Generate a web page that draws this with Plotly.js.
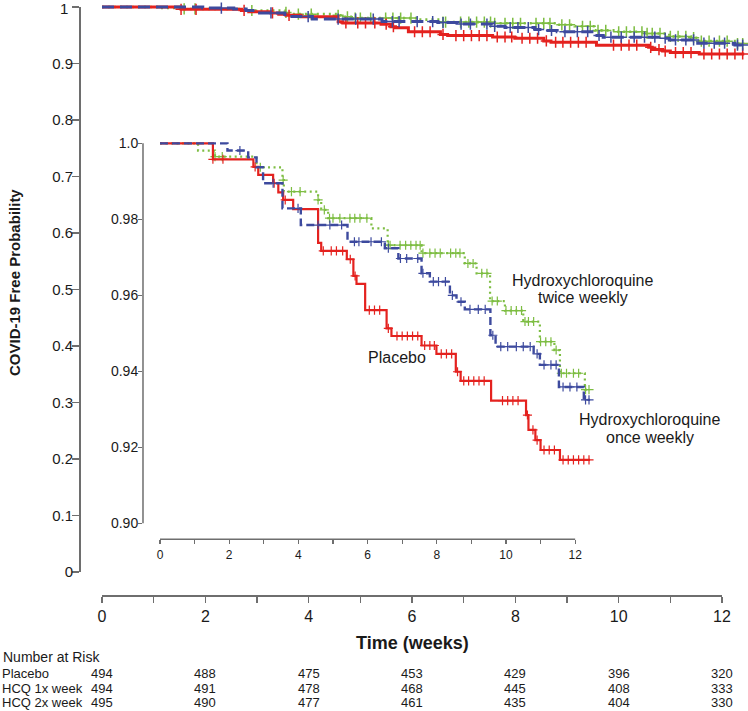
<!DOCTYPE html>
<html><head><meta charset="utf-8">
<script src="https://cdn.plot.ly/plotly-3.0.1.min.js"></script>
<style>html,body{margin:0;padding:0;background:#fff}</style>
</head><body><div id="chart" style="width:748px;height:711px"></div>
<script>
// ---- Kaplan-Meier step data (time in weeks; survival after each step) ----
const placeboTimes = [0, 1.53, 2.70, 2.84, 3.27, 3.42, 3.56, 3.85, 4.57, 4.66, 5.40, 5.59, 5.68, 5.93, 6.55, 6.69, 7.56, 7.99, 8.55, 8.69, 9.57, 10.58, 10.65, 10.85, 11.00, 11.56];
const placeboSurv  = [1, 0.9958, 0.9938, 0.9917, 0.9895, 0.9871, 0.9851, 0.9827, 0.9738, 0.9717, 0.9695, 0.9651, 0.9630, 0.9561, 0.9513, 0.9493, 0.9468, 0.9446, 0.9399, 0.9375, 0.9323, 0.9285, 0.9246, 0.9219, 0.9193, 0.9167];
const placeboCensor = [1.53, 1.82, 2.75, 3.30, 3.62, 4.72, 4.95, 5.10, 5.28, 5.50, 5.64, 6.05, 6.20, 6.35, 6.60, 6.85, 7.00, 7.15, 7.30, 7.45, 7.65, 7.80, 7.93, 8.13, 8.28, 8.43, 8.60, 8.78, 8.92, 9.07, 9.22, 9.37, 9.90, 10.05, 10.20, 10.35, 10.62, 10.78, 10.90, 11.10, 11.25, 11.40, 11.65, 11.80, 11.95, 12.10, 12.25, 12.40];

const onceTimes = [0, 1.95, 2.55, 2.79, 2.98, 3.54, 4.07, 5.42, 6.50, 6.89, 7.56, 7.80, 8.38, 8.57, 8.81, 9.55, 9.70, 10.80, 10.98, 11.53, 12.25];
const onceSurv  = [1, 0.9981, 0.9963, 0.9937, 0.9895, 0.9829, 0.9785, 0.9741, 0.9724, 0.9697, 0.9658, 0.9636, 0.9600, 0.9583, 0.9563, 0.9495, 0.9465, 0.9446, 0.9417, 0.9359, 0.9325];
const onceCensor = [2.31, 3.27, 3.99, 4.57, 4.91, 5.25, 5.62, 5.75, 6.10, 6.40, 6.60, 6.95, 7.13, 7.45, 7.60, 7.90, 8.05, 8.25, 8.45, 8.70, 8.96, 9.20, 9.40, 9.62, 9.85, 10.05, 10.30, 10.50, 10.70, 10.90, 11.10, 11.30, 11.45, 11.65, 11.85, 12.05, 12.30, 12.40];

const twiceTimes = [0, 1.10, 1.59, 2.79, 3.54, 3.58, 4.57, 4.66, 4.86, 6.11, 6.58, 7.56, 8.81, 9.15, 9.54, 9.97, 10.50, 10.98, 11.40, 11.56, 12.28];
const twiceSurv  = [1, 0.9981, 0.9965, 0.9937, 0.9903, 0.9873, 0.9851, 0.9825, 0.9803, 0.9776, 0.9732, 0.9711, 0.9684, 0.9658, 0.9585, 0.9560, 0.9531, 0.9478, 0.9456, 0.9395, 0.9352];
const twiceCensor = [1.59, 1.80, 2.90, 3.56, 3.80, 4.05, 4.57, 4.75, 4.90, 5.00, 5.20, 5.49, 5.63, 5.78, 5.98, 6.60, 6.65, 6.94, 7.10, 7.25, 7.40, 7.52, 7.60, 7.80, 7.95, 8.10, 8.40, 8.55, 8.67, 8.90, 9.05, 9.30, 9.45, 9.60, 9.75, 10.00, 10.15, 10.30, 10.45, 10.55, 10.65, 10.80, 11.00, 11.15, 11.30, 11.45, 11.60, 11.75, 11.95, 12.10, 12.30, 12.40];

const followUpEnd = 12.43;

// ---- axes / table ----
const weekTicks = [0,1,2,3,4,5,6,7,8,9,10,11,12];
const weekTickText = ['0','','2','','4','','6','','8','','10','','12'];
const mainYTicks = [0,0.1,0.2,0.3,0.4,0.5,0.6,0.7,0.8,0.9,1];
const mainYTickText = ['0','0.1','0.2','0.3','0.4','0.5','0.6','0.7','0.8','0.9','1'];
const insetYTicks = [0.90,0.92,0.94,0.96,0.98,1.0];
const insetYTickText = ['0.90','0.92','0.94','0.96','0.98','1.0'];

const riskTimes = [0,2,4,6,8,10,12];
const riskGroups = ['Placebo','HCQ 1x week','HCQ 2x week'];
const riskPlacebo = [494,488,475,453,429,396,320];
const riskOnce    = [494,491,478,468,445,408,333];
const riskTwice   = [495,490,477,461,435,404,330];

const colRed = '#e4221f', colBlue = '#3d4a9e', colGreen = '#7dbd42';
const axisGray = '#6e6e6e';
const txt = '#1a1a1a';
const FONT = 'Arial, "Liberation Sans", sans-serif';

function stepX(t){ return t.concat([followUpEnd]); }
function stepY(s){ return s.concat([s[s.length-1]]); }
function survAt(t, s, x){ let v = s[0]; for(let i=0;i<t.length;i++){ if(t[i] <= x) v = s[i]; } return v; }

const groups = [
  {t: twiceTimes, s: twiceSurv, c: twiceCensor, col: colGreen, dashMain: '2px,4px', dashIn: '2px,3.5px', wMain: 2.6, wIn: 2.2},
  {t: placeboTimes, s: placeboSurv, c: placeboCensor, col: colRed, dashMain: 'solid', dashIn: 'solid', wMain: 3, wIn: 2.2},
  {t: onceTimes, s: onceSurv, c: onceCensor, col: colBlue, dashMain: '12px,6px', dashIn: '8px,4px', wMain: 3, wIn: 2.4}
];

const traces = [];
groups.forEach(g => {
  const cy = g.c.map(x => survAt(g.t, g.s, x));
  traces.push({type:'scatter', mode:'lines', x: stepX(g.t), y: stepY(g.s), xaxis:'x', yaxis:'y',
    line:{shape:'hv', color:g.col, width:g.wMain, dash:g.dashMain}, hoverinfo:'skip'});
  traces.push({type:'scatter', mode:'markers', x: g.c, y: cy, xaxis:'x', yaxis:'y', cliponaxis:false,
    marker:{symbol:'cross-thin', size:8, color:g.col, line:{color:g.col, width:1.5}}, hoverinfo:'skip'});
  traces.push({type:'scatter', mode:'lines', x: stepX(g.t), y: stepY(g.s), xaxis:'x2', yaxis:'y2',
    line:{shape:'hv', color:g.col, width:g.wIn, dash:g.dashIn}, hoverinfo:'skip'});
  traces.push({type:'scatter', mode:'markers', x: g.c, y: cy, xaxis:'x2', yaxis:'y2', cliponaxis:false,
    marker:{symbol:'cross-thin', size:6.5, color:g.col, line:{color:g.col, width:1.2}}, hoverinfo:'skip'});
});

// pixel helpers for paper coordinates (plot area: x 80..748, y 3..596)
const px = v => (v - 80) / 668;
const py = v => (596 - v) / 593;

function ann(o){ return Object.assign({showarrow:false, xanchor:'center', yanchor:'middle'}, o); }

const annotations = [
  ann({text:'<b>COVID-19 Free Probability</b>', xref:'paper', yref:'paper', x:px(14), y:py(283), textangle:-90, font:{size:15, color:txt}}),
  ann({text:'<b>Time (weeks)</b>', xref:'x', yref:'paper', x:6, y:py(643), font:{size:18, color:txt}}),
  ann({text:'Number at Risk', xref:'paper', yref:'paper', x:px(1), y:py(657), xanchor:'left', font:{size:14, color:txt}}),
  ann({text:'Hydroxychloroquine', xref:'paper', yref:'paper', x:px(583), y:py(280), font:{size:16, color:txt}}),
  ann({text:'twice weekly', xref:'paper', yref:'paper', x:px(583), y:py(297), font:{size:16, color:txt}}),
  ann({text:'Placebo', xref:'paper', yref:'paper', x:px(397), y:py(358), font:{size:16, color:txt}}),
  ann({text:'Hydroxychloroquine', xref:'paper', yref:'paper', x:px(650), y:py(419), font:{size:16, color:txt}}),
  ann({text:'once weekly', xref:'paper', yref:'paper', x:px(650), y:py(437), font:{size:16, color:txt}}),
  // top label of the main y axis (drawn as text so it is not dropped at the figure edge)
  ann({text:mainYTickText[mainYTickText.length-1], xref:'paper', yref:'y', x:px(70), y:mainYTicks[mainYTicks.length-1], yshift:-2, xanchor:'right', font:{size:15, color:txt}})
];
const rowY = [673, 688, 702];
const riskRows = [riskPlacebo, riskOnce, riskTwice];
riskGroups.forEach((name, i) => {
  annotations.push(ann({text:name, xref:'paper', yref:'paper', x:px(0), y:py(rowY[i]), xanchor:'left', font:{size:13, color:txt}}));
  riskRows[i].forEach((n, j) => {
    annotations.push(ann({text:String(n), xref:'x', yref:'paper', x:riskTimes[j], y:py(rowY[i]), font:{size:13, color:txt}}));
  });
});

const mainYText = mainYTickText.slice(0, -1).concat(['']);

const commonAx = {showgrid:false, zeroline:false, showline:false, fixedrange:true, tickmode:'array', ticks:'outside', tickcolor:axisGray};

const layout = {
  width:748, height:711,
  margin:{l:80, r:0, t:3, b:115, pad:0},
  paper_bgcolor:'#ffffff', plot_bgcolor:'rgba(0,0,0,0)',
  showlegend:false,
  font:{family:FONT, color:txt},
  xaxis: Object.assign({}, commonAx, {domain:[0,1], anchor:'y', range:[-0.426, 12.503], tickvals:weekTicks, ticktext:weekTickText, ticklen:6, tickwidth:1.5, tickfont:{size:16}}),
  yaxis: Object.assign({}, commonAx, {domain:[0,1], anchor:'x', range:[-0.0425, 1.007], tickvals:mainYTicks, ticktext:mainYText, ticklen:7, tickwidth:1.5, tickfont:{size:15}, ticklabelstandoff:-4}),
  xaxis2: Object.assign({}, commonAx, {domain:[0.0943,0.7784], anchor:'y2', range:[-0.491, 12.717], tickvals:weekTicks, ticktext:weekTickText, ticklen:4, tickwidth:1.2, tickfont:{size:12}}),
  yaxis2: Object.assign({}, commonAx, {domain:[0.0956,0.7723], anchor:'x2', range:[0.8958, 1.0014], tickvals:insetYTicks, ticktext:insetYTickText, ticklen:4, tickwidth:1.2, tickfont:{size:14}, ticklabelstandoff:-3}),
  shapes:[
    {type:'line', xref:'x', yref:'paper', x0:0, x1:12, y0:0, y1:0, line:{color:axisGray, width:2}},
    {type:'line', xref:'paper', yref:'y', x0:0, x1:0, y0:0, y1:1, line:{color:axisGray, width:2}},
    {type:'line', xref:'x2', yref:'y2 domain', x0:0, x1:12, y0:0, y1:0, line:{color:axisGray, width:1.5}},
    {type:'line', xref:'x2 domain', yref:'y2', x0:0, x1:0, y0:0.9, y1:1.0, line:{color:axisGray, width:1.5}}
  ],
  annotations: annotations
};

Plotly.newPlot('chart', traces, layout, {displayModeBar:false, staticPlot:true});
</script>
</body></html>
